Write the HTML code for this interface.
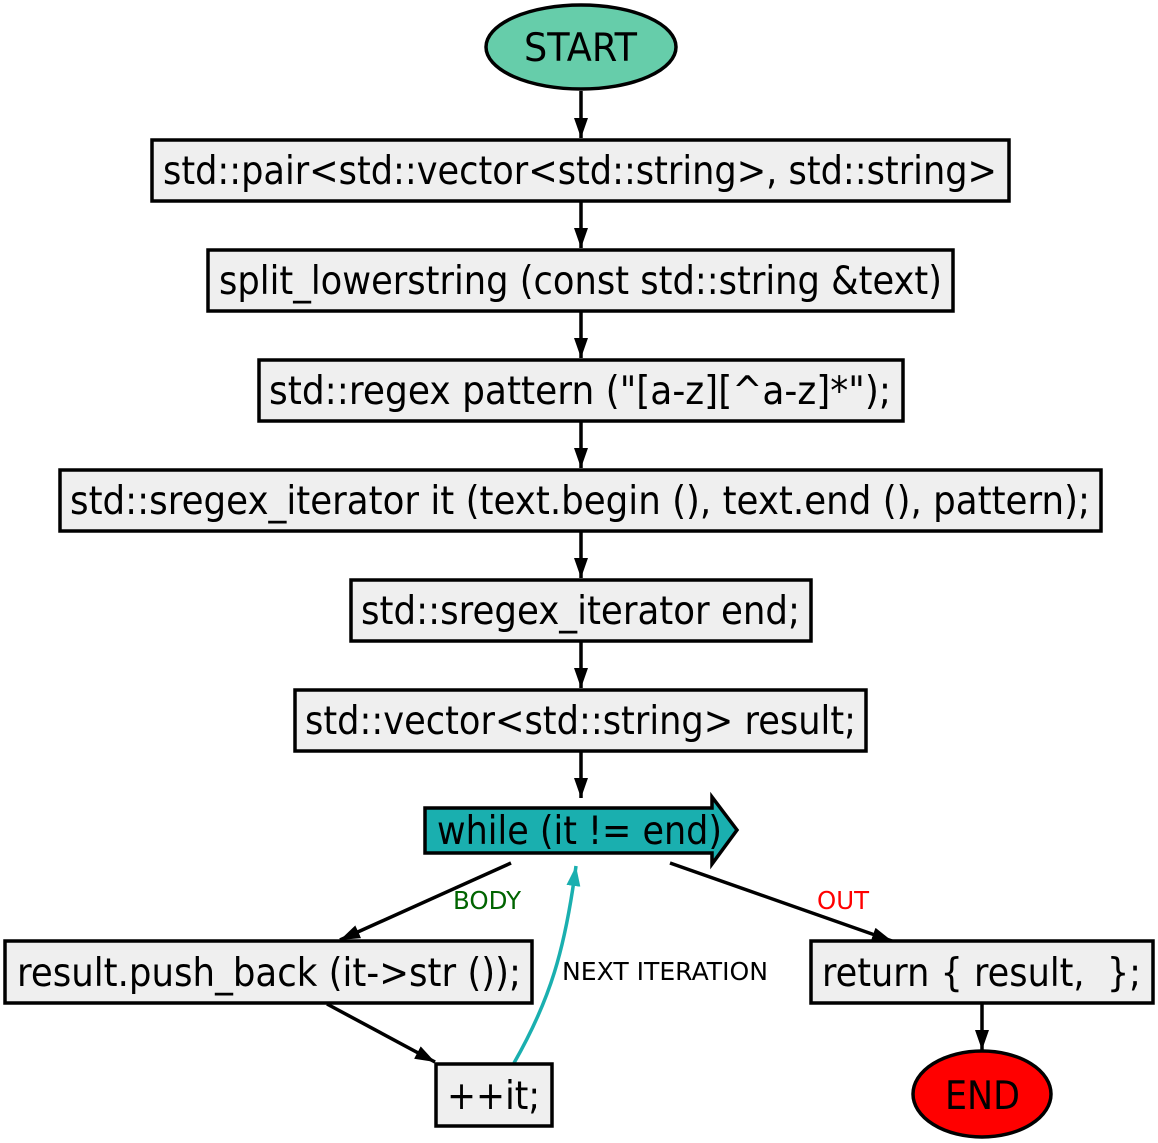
<!DOCTYPE html>
<html><head><meta charset="utf-8"><style>html,body{margin:0;padding:0;background:#fff;}svg{display:block;}</style></head>
<body>
<svg width="1158" height="1143" viewBox="0 0 1158 1143" xmlns="http://www.w3.org/2000/svg" font-family="DejaVu Sans, Liberation Sans, sans-serif">
<defs>
<marker id="ab" viewBox="0 0 20 14" markerWidth="20" markerHeight="14" refX="20" refY="7" orient="auto" markerUnits="userSpaceOnUse"><path d="M0,0 L20,7 L0,14 z" fill="#000"/></marker>
<marker id="at" viewBox="0 0 20 14" markerWidth="20" markerHeight="14" refX="20" refY="7" orient="auto" markerUnits="userSpaceOnUse"><path d="M0,0 L20,7 L0,14 z" fill="#1aafaf"/></marker>
</defs>
<g stroke="#000" stroke-width="3.5" fill="none">
<line x1="581" y1="91" x2="581" y2="138" marker-end="url(#ab)"/>
<line x1="581" y1="201" x2="581" y2="248" marker-end="url(#ab)"/>
<line x1="581" y1="311" x2="581" y2="358" marker-end="url(#ab)"/>
<line x1="581" y1="421" x2="581" y2="468" marker-end="url(#ab)"/>
<line x1="581" y1="531" x2="581" y2="578" marker-end="url(#ab)"/>
<line x1="581" y1="641" x2="581" y2="688" marker-end="url(#ab)"/>
<line x1="581" y1="751" x2="581" y2="798" marker-end="url(#ab)"/>
<line x1="511" y1="863" x2="340" y2="940" marker-end="url(#ab)"/>
<line x1="670" y1="863" x2="892" y2="941" marker-end="url(#ab)"/>
<line x1="327" y1="1004" x2="435" y2="1062" marker-end="url(#ab)"/>
<line x1="982" y1="1004" x2="982" y2="1050" marker-end="url(#ab)"/>
</g>
<path d="M514,1063 C550,1000 565,950 576,866" stroke="#1aafaf" stroke-width="3.5" fill="none" marker-end="url(#at)"/>
<g stroke="#000" stroke-width="3.5" fill="#efefef">
<ellipse cx="581" cy="47" rx="95" ry="42" fill="#66cdaa"/>
<rect x="152" y="140" width="857" height="61"/>
<rect x="208" y="250" width="745" height="61"/>
<rect x="259" y="360" width="644" height="61"/>
<rect x="60" y="470" width="1041" height="61"/>
<rect x="351" y="580" width="460" height="61"/>
<rect x="295" y="690" width="571" height="61"/>
<path d="M425,808 L712,808 L712,797 L737,830 L712,864 L712,853 L425,853 Z" fill="#1aafaf"/>
<rect x="5" y="941" width="527" height="62"/>
<rect x="436" y="1064" width="116" height="62"/>
<rect x="811" y="941" width="342" height="62"/>
<ellipse cx="982" cy="1094" rx="69" ry="43" fill="#ff0000"/>
</g>
<g font-size="39" fill="#000" style="white-space:pre">
<text x="524" y="61" textLength="113" lengthAdjust="spacingAndGlyphs">START</text>
<text x="163" y="184" textLength="834" lengthAdjust="spacingAndGlyphs">std::pair&lt;std::vector&lt;std::string&gt;, std::string&gt;</text>
<text x="219" y="294" textLength="723" lengthAdjust="spacingAndGlyphs">split_lowerstring (const std::string &amp;text)</text>
<text x="269" y="404" textLength="622" lengthAdjust="spacingAndGlyphs">std::regex pattern ("[a-z][^a-z]*");</text>
<text x="70" y="514" textLength="1020" lengthAdjust="spacingAndGlyphs">std::sregex_iterator it (text.begin (), text.end (), pattern);</text>
<text x="361" y="624" textLength="439" lengthAdjust="spacingAndGlyphs">std::sregex_iterator end;</text>
<text x="305" y="734" textLength="551" lengthAdjust="spacingAndGlyphs">std::vector&lt;std::string&gt; result;</text>
<text x="437" y="844" textLength="285" lengthAdjust="spacingAndGlyphs">while (it != end)</text>
<text x="17" y="986" textLength="504" lengthAdjust="spacingAndGlyphs">result.push_back (it-&gt;str ());</text>
<text x="447" y="1109" textLength="93" lengthAdjust="spacingAndGlyphs">++it;</text>
<text x="822" y="986" textLength="319" lengthAdjust="spacingAndGlyphs">return { result,&#160; };</text>
<text x="945" y="1109" textLength="75" lengthAdjust="spacingAndGlyphs">END</text>
</g>
<g font-size="25">
<text x="453" y="909" fill="#006400" textLength="68" lengthAdjust="spacingAndGlyphs">BODY</text>
<text x="817" y="909" fill="#ff0000" textLength="52" lengthAdjust="spacingAndGlyphs">OUT</text>
<text x="562" y="980" fill="#000" textLength="206" lengthAdjust="spacingAndGlyphs">NEXT ITERATION</text>
</g>
</svg>
</body></html>
